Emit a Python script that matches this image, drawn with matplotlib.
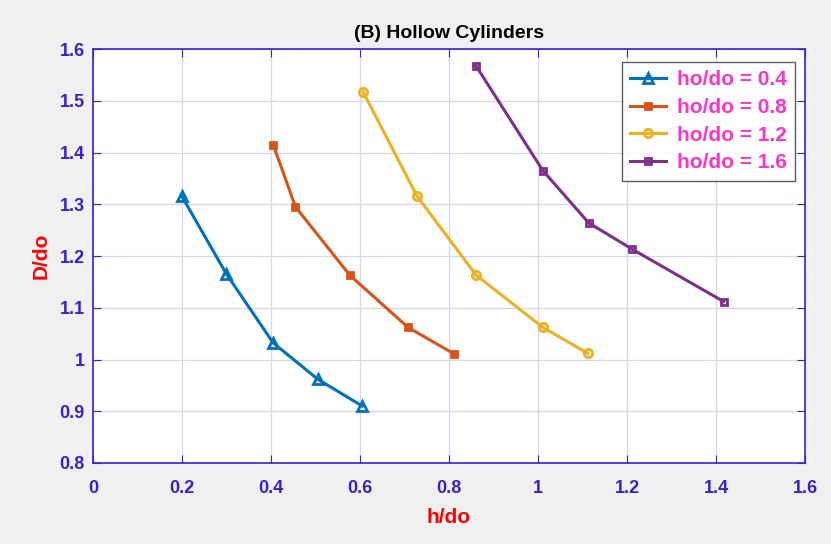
import matplotlib
matplotlib.use('Agg')
import matplotlib.pyplot as plt

plt.rcParams['font.family'] = ['Liberation Sans', 'DejaVu Sans']

x1 = [0.2, 0.3, 0.405, 0.505, 0.605]
y1 = [1.315, 1.165, 1.032, 0.962, 0.91]
x2 = [0.405, 0.455, 0.577, 0.708, 0.811]
y2 = [1.415, 1.295, 1.163, 1.062, 1.011]
x3 = [0.607, 0.728, 0.861, 1.011, 1.112]
y3 = [1.517, 1.316, 1.163, 1.062, 1.012]
x4 = [0.861, 1.011, 1.114, 1.212, 1.417]
y4 = [1.567, 1.365, 1.264, 1.213, 1.112]
labels = ['ho/do = 0.4', 'ho/do = 0.8', 'ho/do = 1.2', 'ho/do = 1.6']
xticks = [0, 0.2, 0.4, 0.6, 0.8, 1, 1.2, 1.4, 1.6]
yticks = [0.8, 0.9, 1, 1.1, 1.2, 1.3, 1.4, 1.5, 1.6]

fig = plt.figure(figsize=(8.31, 5.44), dpi=100, facecolor='#f0f0f0')
ax = fig.add_axes([0.1119, 0.1489, 0.8568, 0.761])

ax.plot(x1, y1, '-^', color='#0072bd', lw=2.2, ms=6.5, mfc='none', mew=2, label=labels[0])
ax.plot(x2, y2, '-s', color='#d95319', lw=2.2, ms=5, mew=2, label=labels[1])
ax.plot(x3, y3, '-o', color='#edb120', lw=2.2, ms=6, mfc='none', mew=2, label=labels[2])
ax.plot(x4, y4, '-s', color='#7e2f8e', lw=2.2, ms=5, mfc='none', mew=2, label=labels[3])

ax.set_xlim(0, 1.6)
ax.set_ylim(0.8, 1.6)
ax.set_xticks(xticks)
ax.set_xticklabels(['0', '0.2', '0.4', '0.6', '0.8', '1', '1.2', '1.4', '1.6'])
ax.set_yticks(yticks)
ax.set_yticklabels(['0.8', '0.9', '1', '1.1', '1.2', '1.3', '1.4', '1.5', '1.6'])
ax.grid(True, color='#d8d4f4', lw=0.9)
ax.tick_params(direction='in', length=6, colors='#3a1fd0', labelsize=13, top=True, right=True)
ax.tick_params(axis='x', pad=12)
ax.tick_params(axis='y', pad=6)
for lab in ax.get_xticklabels() + ax.get_yticklabels():
    lab.set_fontweight('bold')
for s in ax.spines.values():
    s.set_color('#3a1fd0')
    s.set_linewidth(1.2)

ax.set_xlabel('h/do', color='red', fontsize=15, fontweight='bold', labelpad=8)
ax.set_ylabel('D/do', color='red', fontsize=15, fontweight='bold', labelpad=6)
ax.set_title('(B) Hollow Cylinders', fontsize=14, fontweight='bold', pad=8)

leg = ax.legend(loc='upper right', bbox_to_anchor=(0.986, 0.969), fontsize=15, frameon=True,
                fancybox=False, edgecolor='#333333', handlelength=1.75, handletextpad=0.5,
                borderpad=0.4, labelspacing=0.42, borderaxespad=0)
for t in leg.get_texts():
    t.set_color('#ff33cc')
    t.set_fontweight('bold')
leg.get_frame().set_linewidth(1.0)

fig.savefig('out.png', dpi=100, facecolor=fig.get_facecolor())
